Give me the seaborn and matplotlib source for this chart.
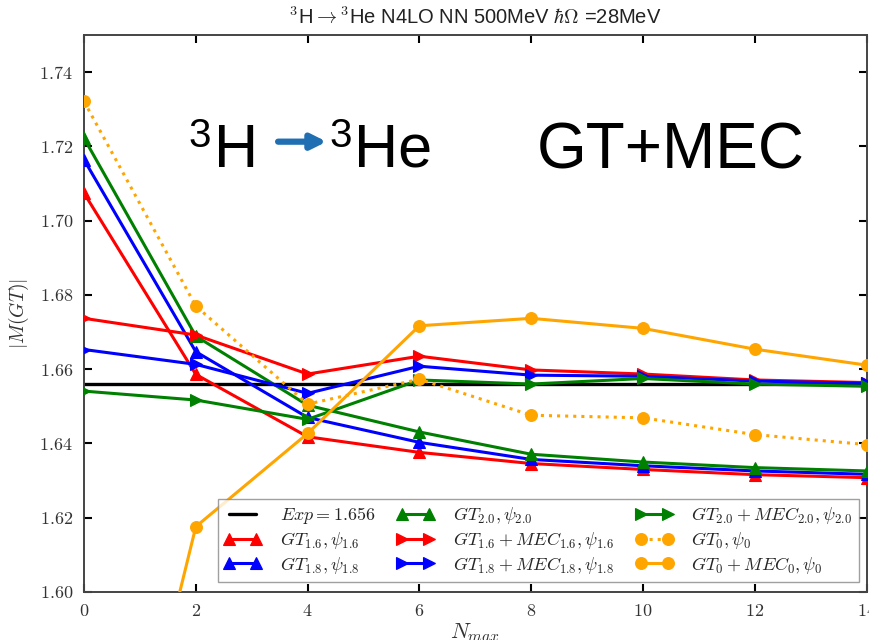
import matplotlib
matplotlib.use("Agg")
import matplotlib.pyplot as plt
from matplotlib.ticker import FuncFormatter, MultipleLocator
import seaborn as sns
import pandas as pd

# N_max values
nmax = [0, 2, 4, 6, 8, 10, 12, 14]

# Experimental value
exp_value = 1.656

# Gamow-Teller matrix elements |M(GT)|
gt_16 = [1.7074, 1.6586, 1.6418, 1.6376, 1.6346, 1.6330, 1.6316, 1.6308]
gt_18 = [1.7164, 1.6647, 1.6470, 1.6403, 1.6357, 1.6340, 1.6326, 1.6317]
gt_20 = [1.7222, 1.6689, 1.6503, 1.6431, 1.6371, 1.6350, 1.6335, 1.6326]

# Gamow-Teller plus meson-exchange currents
mec_16 = [1.6737, 1.6692, 1.6587, 1.6635, 1.6598, 1.6587, 1.6571, 1.6564]
mec_18 = [1.6653, 1.6613, 1.6535, 1.6608, 1.6584, 1.6581, 1.6568, 1.6562]
mec_20 = [1.6541, 1.6517, 1.6465, 1.6571, 1.6560, 1.6575, 1.6560, 1.6554]

# Unevolved operator / wave function
gt_0 = [1.7321, 1.6770, 1.6506, 1.6573, 1.6476, 1.6469, 1.6424, 1.6397]
mec_0 = [1.4950, 1.6176, 1.6427, 1.6717, 1.6737, 1.6710, 1.6654, 1.6611]

series = [
    (gt_16, r"$GT_{1.6}, \psi_{1.6}$", "red", "^", "-"),
    (gt_18, r"$GT_{1.8}, \psi_{1.8}$", "blue", "^", "-"),
    (gt_20, r"$GT_{2.0}, \psi_{2.0}$", "green", "^", "-"),
    (mec_16, r"$GT_{1.6} + MEC_{1.6}, \psi_{1.6}$", "red", ">", "-"),
    (mec_18, r"$GT_{1.8} + MEC_{1.8}, \psi_{1.8}$", "blue", ">", "-"),
    (mec_20, r"$GT_{2.0} + MEC_{2.0}, \psi_{2.0}$", "green", ">", "-"),
    (gt_0, r"$GT_0, \psi_0$", "orange", "o", ":"),
    (mec_0, r"$GT_0 + MEC_0, \psi_0$", "orange", "o", "-"),
]

sns.set_theme(style="white")
plt.rcParams["font.family"] = ["Liberation Sans", "DejaVu Sans"]
plt.rcParams["mathtext.fontset"] = "cm"

fig = plt.figure(figsize=(8.7, 6.4), dpi=100)
ax = fig.add_axes([0.0966, 0.075, 0.8994, 0.8703])

ax.axhline(exp_value, color="black", lw=2.4, label=r"$Exp = 1.656$", zorder=2)

for values, label, color, marker, ls in series:
    df = pd.DataFrame({"N": nmax, "M": values})
    sns.lineplot(data=df, x="N", y="M", ax=ax, color=color, marker=marker,
                 linestyle=ls, lw=2.2, markersize=8.5,
                 markeredgecolor=color, markeredgewidth=0.8,
                 label=label, zorder=3)

ax.set_xlim(0, 14)
ax.set_ylim(1.60, 1.75)
ax.xaxis.set_major_locator(MultipleLocator(2))
ax.yaxis.set_major_locator(MultipleLocator(0.02))
ax.xaxis.set_major_formatter(FuncFormatter(lambda v, p: rf"${int(round(v))}$"))
ax.yaxis.set_major_formatter(FuncFormatter(lambda v, p: rf"${v:.2f}$"))
ax.tick_params(direction="in", length=6, width=1.5, color="black",
               top=True, right=True, bottom=True, left=True,
               labelsize=13, labelcolor="#333333", pad=8)
for sp in ax.spines.values():
    sp.set_color("#444444")
    sp.set_linewidth(1.4)

ax.set_xlabel(r"$N_{max}$", fontsize=16, color="#333333", labelpad=1)
ax.set_ylabel(r"$|M(GT)|$", fontsize=14, color="#333333", labelpad=6)
ax.set_title(r"$^3$H$\rightarrow$$^3$He N4LO NN 500MeV $\hbar\Omega$ =28MeV",
             fontsize=14.5, color="#222222", pad=8)

handles, labels = ax.get_legend_handles_labels()
leg = ax.legend(handles, labels, ncol=3, numpoints=2, fontsize=13,
                loc="lower right", bbox_to_anchor=(0.99, 0.018),
                frameon=True, fancybox=False, edgecolor="#888888",
                handlelength=2.1, labelspacing=0.2, columnspacing=1.2,
                handletextpad=1.0, borderpad=0.35, borderaxespad=0.0)
leg.get_frame().set_linewidth(1.0)

# Reaction label and operator label
big = 44
ax.text(0.1340, 0.7995, "3", transform=ax.transAxes, fontsize=29, ha="left",
        va="baseline", color="black")
ax.text(0.1660, 0.7636, "H", transform=ax.transAxes, fontsize=big, ha="left",
        va="baseline", color="black")
ax.annotate("", xy=(0.310, 0.8085), xytext=(0.2480, 0.8085),
            xycoords="axes fraction",
            arrowprops=dict(arrowstyle="-|>", color="#1f6fb2", lw=4.5,
                            mutation_scale=22, shrinkA=0, shrinkB=0))
ax.text(0.3130, 0.7995, "3", transform=ax.transAxes, fontsize=29, ha="left",
        va="baseline", color="black")
ax.text(0.3455, 0.7636, "He", transform=ax.transAxes, fontsize=big, ha="left",
        va="baseline", color="black")
ax.text(0.579, 0.760, "GT+MEC", transform=ax.transAxes, fontsize=46,
        ha="left", va="baseline", color="black")

fig.savefig("out.png", dpi=100)
